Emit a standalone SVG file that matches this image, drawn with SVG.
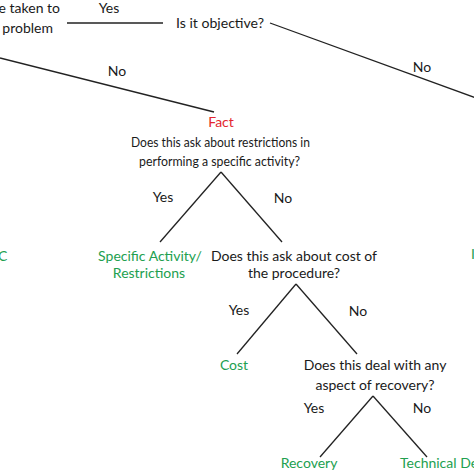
<svg xmlns="http://www.w3.org/2000/svg" width="474" height="474" viewBox="0 0 474 474">
<style>
text{font-family:Lato,"Open Sans","Liberation Sans",sans-serif;font-size:14px;fill:#1a1a1a}
.g{fill:#22a04f}
.r{fill:#e3262d}
.m{text-anchor:middle}
.c line{stroke:#222;stroke-width:1.3}
</style>
<rect width="474" height="474" fill="#fff"/>
<g class="c" id="connectors">
<line x1="67" y1="23" x2="163" y2="23"/>
<line x1="0" y1="58" x2="214" y2="112"/>
<line x1="270" y1="23" x2="476" y2="98"/>
<line x1="221" y1="172" x2="160" y2="242"/>
<line x1="221" y1="172" x2="282" y2="242"/>
<line x1="296" y1="284" x2="237" y2="354"/>
<line x1="296" y1="284" x2="357" y2="354"/>
<line x1="373" y1="396" x2="320" y2="457"/>
<line x1="373" y1="396" x2="427" y2="457"/>
<text x="109" y="13" class="m">Yes</text>
<text x="117" y="76" class="m">No</text>
<text x="422" y="72" class="m">No</text>
<text x="163" y="202" class="m">Yes</text>
<text x="283" y="203" class="m">No</text>
<text x="239" y="315" class="m">Yes</text>
<text x="358" y="316" class="m">No</text>
<text x="314" y="413" class="m">Yes</text>
<text x="422" y="413" class="m">No</text>
</g>
<g id="root">
<text x="60" y="13" text-anchor="end">e taken to</text>
<text x="53" y="33" text-anchor="end">problem</text>
</g>
<g id="objective"><text x="176" y="28" textLength="88" lengthAdjust="spacingAndGlyphs">Is it objective?</text></g>
<g id="fact">
<text x="221" y="127" class="m r">Fact</text>
<text x="131" y="147" textLength="179" lengthAdjust="spacingAndGlyphs">Does this ask about restrictions in</text>
<text x="139" y="166" textLength="161" lengthAdjust="spacingAndGlyphs">performing a specific activity?</text>
</g>
<g id="left-c"><text x="-2" y="261" class="g">C</text></g>
<g id="right-i"><text x="471" y="259" class="g">I</text></g>
<g id="specific">
<text x="150" y="261" class="m g">Specific Activity/</text>
<text x="149" y="278" class="m g">Restrictions</text>
</g>
<g id="cost-q">
<text x="294" y="261" class="m">Does this ask about cost of</text>
<text x="294" y="278" class="m">the procedure?</text>
</g>
<g id="cost"><text x="234" y="370" class="m g">Cost</text></g>
<g id="recovery-q">
<text x="375" y="370" class="m">Does this deal with any</text>
<text x="375" y="390" class="m">aspect of recovery?</text>
</g>
<g id="recovery"><text x="309" y="468" class="m g">Recovery</text></g>
<g id="technical"><text x="400" y="468" class="g">Technical De</text></g>
</svg>
